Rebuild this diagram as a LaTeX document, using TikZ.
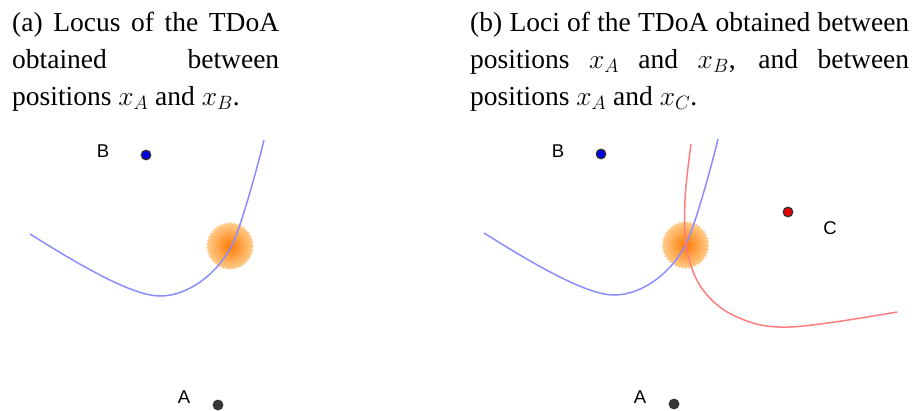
\RequirePackage{fix-cm}
\documentclass[tikz,border=0pt]{standalone}
\usepackage{fontspec}
\setmainfont{Liberation Serif}
\newfontfamily\labelfont{Liberation Sans}
\usetikzlibrary{decorations.pathmorphing}

\definecolor{locusblue}{RGB}{140,140,255}
\definecolor{locusred}{RGB}{255,125,125}
\definecolor{blobin}{RGB}{255,120,0}
\definecolor{blobout}{RGB}{255,208,145}
\definecolor{dotblue}{RGB}{0,0,230}
\definecolor{dotred}{RGB}{235,0,0}
\definecolor{dotgray}{RGB}{55,55,55}

\begin{document}
\begin{tikzpicture}[x=1pt,y=-1pt,
  caption/.style={inner sep=0pt, anchor=north west, align=justify,
    font=\fontsize{27.5}{37}\selectfont},
  ptlabel/.style={inner sep=0pt, font=\labelfont\fontsize{18.5}{20}\selectfont},
  ptdot/.style={circle, draw=black!80, line width=1.3pt, minimum size=9.5pt, inner sep=0pt},
  locus/.style={line width=1.5pt},
  blob/.style={inner color=blobin, outer color=blobout, decorate,
    decoration={zigzag, segment length=3.5pt, amplitude=0.9pt}}
]
\useasboundingbox (0,0) rectangle (916,410);

% captions
\node[caption, text width=267pt] (capa) at (12,12)
  {(a) Locus of the TDoA\linebreak obtained between\linebreak positions $x_A$ and $x_B$.};
\node[caption, text width=439pt] (capb) at (470,12)
  {(b) Loci of the TDoA obtained between\linebreak positions $x_A$ and $x_B$, and between\linebreak positions $x_A$ and $x_C$.};

% blobs
\shade[blob] (230,246) circle (23);
\shade[blob] (685.5,245) circle (23);

% loci
\draw[locus, locusblue] (30,234) .. controls (70,259) and (130,296) .. (160,296)
  .. controls (190,296) and (220,271) .. (233,243)
  .. controls (243,221) and (260,157) .. (264,140);
\begin{scope}[shift={(454,-1)}]
\draw[locus, locusblue] (30,234) .. controls (70,259) and (130,296) .. (160,296)
  .. controls (190,296) and (220,271) .. (233,243)
  .. controls (243,221) and (260,157) .. (264,140);
\end{scope}
\draw[locus, locusred] plot[smooth, tension=0.6] coordinates
  {(691,144) (685,200) (687,250) (703,290) (737,317) (790,327) (897,312)};

% panel (a) points
\node[ptlabel] (labBa) at (103,151) {B};
\node[ptdot, fill=dotblue] (dotBa) at (146,155) {};
\node[ptlabel] (labAa) at (184,397.5) {A};
\node[ptdot, fill=dotgray] (dotAa) at (218,405) {};

% panel (b) points
\node[ptlabel] (labBb) at (558,151) {B};
\node[ptdot, fill=dotblue] (dotBb) at (601,154) {};
\node[ptlabel] (labAb) at (640,397.5) {A};
\node[ptdot, fill=dotgray] (dotAb) at (674,404) {};
\node[ptdot, fill=dotred] (dotCb) at (788,212) {};
\node[ptlabel] (labCb) at (830,228) {C};
\end{tikzpicture}
\end{document}
